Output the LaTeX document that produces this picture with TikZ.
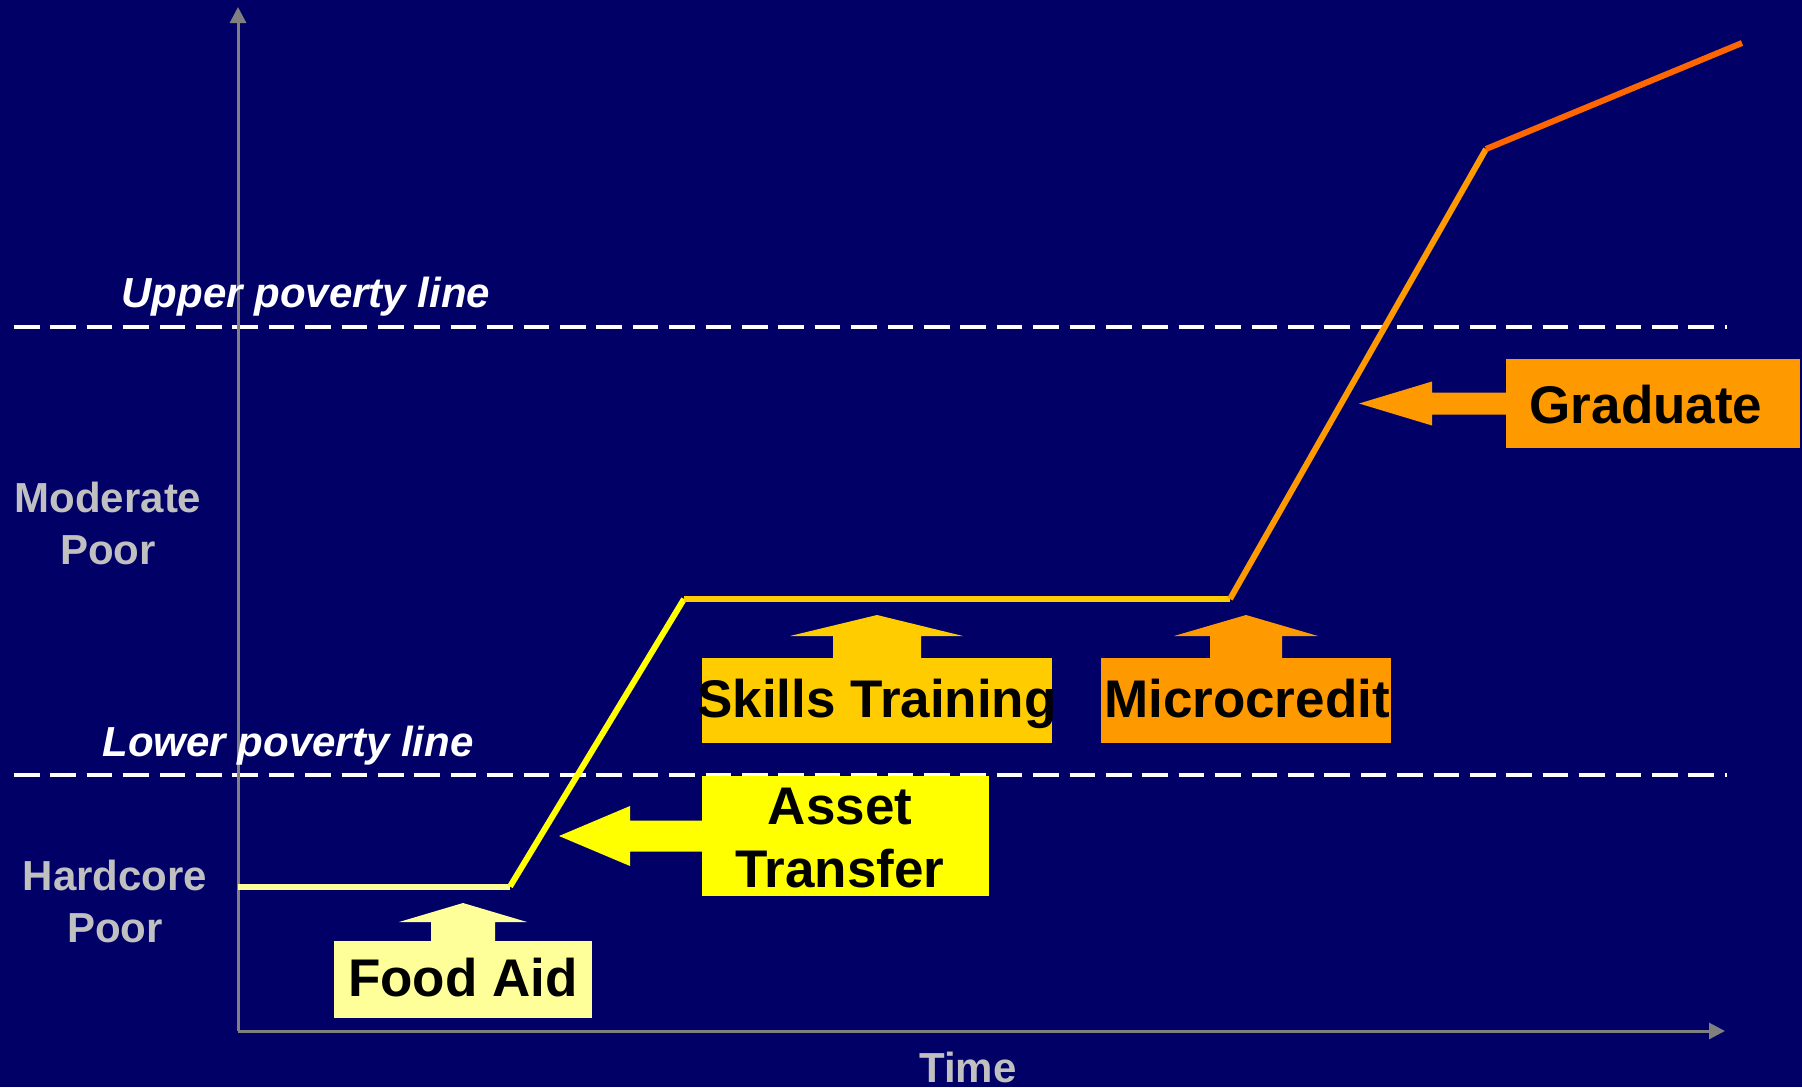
\documentclass[tikz,border=0pt]{standalone}
\usepackage{fontspec}
\setmainfont{Liberation Sans}
\usetikzlibrary{arrows.meta}
\definecolor{bg}{HTML}{000066}
\definecolor{axisgray}{HTML}{808080}
\definecolor{labgray}{HTML}{C0C0C0}
\definecolor{paleyel}{HTML}{FFFF99}
\definecolor{yel}{HTML}{FFFF00}
\definecolor{gold}{HTML}{FFCC00}
\definecolor{orng}{HTML}{FF9900}
\definecolor{dorng}{HTML}{FF6600}
\begin{document}
\begin{tikzpicture}[x=0.5pt,y=-0.5pt,
  axisline/.style={draw=axisgray,line width=1.5pt,-{Triangle[length=8pt,width=8pt]}},
  povline/.style={draw=white,line width=1.6pt,dash pattern=on 12.8pt off 5.4pt},
  traj/.style={line width=3pt},
  box/.style={inner sep=0pt,outer sep=0pt,draw=none},
  boxtext/.style={inner sep=0pt,text=black,font=\fontsize{26.5}{31.5}\selectfont\bfseries,align=center},
  sidetext/.style={inner sep=0pt,text=labgray,font=\fontsize{21}{26}\selectfont\bfseries,align=center},
  povtext/.style={inner sep=0pt,text=white,font=\fontsize{21}{26}\selectfont\bfseries\itshape}]
\fill[bg] (0,0) rectangle (1802,1087);
\useasboundingbox (0,0) rectangle (1802,1087);

% poverty lines
\coordinate (up0) at (14,327);
\coordinate (up1) at (1727,327);
\coordinate (lo0) at (14,775);
\coordinate (lo1) at (1727,775);
\draw[povline] (up0) -- (up1);
\draw[povline] (lo0) -- (lo1);

% axes
\coordinate (origin) at (238,1031);
\coordinate (ytop) at (238,7);
\coordinate (xend) at (1725,1031);
\draw[axisline] (origin) -- (ytop);
\draw[axisline] (origin) -- (xend);

% labels
\node[povtext,anchor=base] (uplab) at (306,307) {Upper poverty line};
\node[povtext,anchor=base] (lolab) at (288,756) {Lower poverty line};
\node[sidetext] (modpoor) at (108,523) {Moderate\\Poor};
\node[sidetext] (hardpoor) at (115,901) {Hardcore\\Poor};
\node[sidetext,anchor=base] (time) at (968,1082) {Time};

% trajectory
\coordinate (p0) at (238,886.5);
\coordinate (p1) at (510,886.5);
\coordinate (p2) at (684,599);
\coordinate (p3) at (1230,599);
\coordinate (p4) at (1486,149);
\coordinate (p5) at (1742,43);
\draw[traj,paleyel] (p0) -- (p1);
\draw[traj,yel] (p1) -- (p2);
\draw[traj,gold] (p2) -- (p3);
\draw[traj,orng] (p3) -- (p4);
\draw[traj,dorng] (p4) -- (p5);

% boxes
\node[box,fill=paleyel,minimum width=129pt,minimum height=38.5pt] (food) at (463,979.5) {};
\node[box,fill=yel,minimum width=143.5pt,minimum height=60pt] (asset) at (845.5,836) {};
\node[box,fill=gold,minimum width=175pt,minimum height=42.5pt] (skills) at (877,700.5) {};
\node[box,fill=orng,minimum width=145pt,minimum height=42.5pt] (micro) at (1246,700.5) {};
\node[box,fill=orng,minimum width=147pt,minimum height=44.5pt] (grad) at (1653,403.5) {};

% block arrows
\fill[paleyel] ([shift={(-32,0)}]food.north) -- ++(0,-19) -- ++(-32,0) -- ([shift={(0,-38)}]food.north)
  -- ([shift={(64,-19)}]food.north) -- ++(-32,0) -- ([shift={(32,0)}]food.north) -- cycle;
\fill[gold] ([shift={(-44,0)}]skills.north) -- ++(0,-22) -- ++(-43,0) -- ([shift={(0,-43)}]skills.north)
  -- ([shift={(86,-22)}]skills.north) -- ++(-42,0) -- ([shift={(44,0)}]skills.north) -- cycle;
\fill[orng] ([shift={(-36,0)}]micro.north) -- ++(0,-22) -- ++(-36,0) -- ([shift={(0,-43)}]micro.north)
  -- ([shift={(72,-22)}]micro.north) -- ++(-36,0) -- ([shift={(36,0)}]micro.north) -- cycle;
\fill[yel] ([shift={(0,-15.5)}]asset.west) -- ++(-72,0) -- ++(0,-14.5) -- ([shift={(-143,0)}]asset.west)
  -- ([shift={(-72,30)}]asset.west) -- ++(0,-14.5) -- ([shift={(0,15.5)}]asset.west) -- cycle;
\fill[orng] ([shift={(0,-11)}]grad.west) -- ++(-74,0) -- ++(0,-11) -- ([shift={(-147,0)}]grad.west)
  -- ([shift={(-74,22)}]grad.west) -- ++(0,-11) -- ([shift={(0,11)}]grad.west) -- cycle;

% box texts
\node[boxtext,anchor=base] (foodtxt) at (463,996) {Food Aid};
\node[boxtext] (assettxt) at (840,838) {Asset\\Transfer};
\node[boxtext,anchor=base] (skillstxt) at (877,717) {Skills Training};
\node[boxtext,anchor=base] (microtxt) at (1247,717) {Microcredit};
\node[boxtext,anchor=base] (gradtxt) at (1646,423) {Graduate};
\end{tikzpicture}
\end{document}
